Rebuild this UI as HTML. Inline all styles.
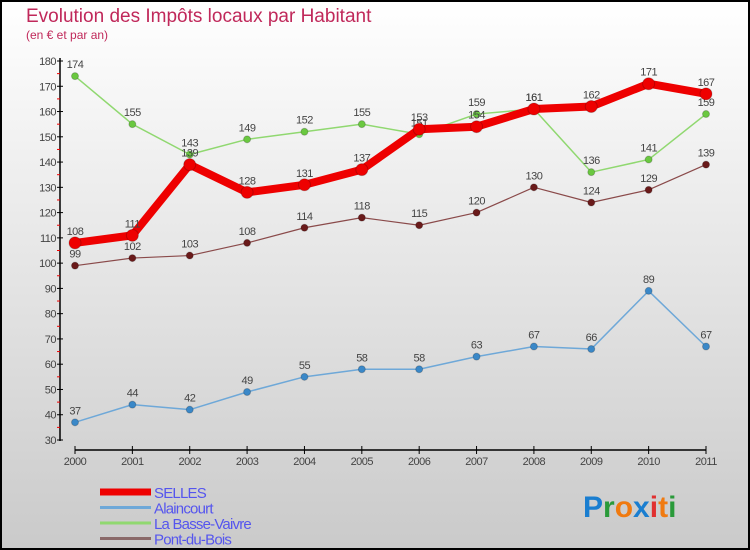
<!DOCTYPE html>
<html><head><meta charset="utf-8"><style>
body{margin:0}
svg{display:block;font-family:"Liberation Sans",sans-serif}
</style></head><body>
<svg id="c" width="750" height="550">
<defs><linearGradient id="bg" x1="0" y1="0" x2="0" y2="1"><stop offset="0" stop-color="#ffffff"/><stop offset="1" stop-color="#cacaca"/></linearGradient></defs>
<rect x="1" y="1" width="748" height="548" fill="url(#bg)" stroke="#000" stroke-width="2"/>
<text x="26" y="22" font-size="19" fill="#c0285a">Evolution des Impôts locaux par Habitant</text>
<text x="26" y="39" font-size="12" fill="#c0285a">(en € et par an)</text>
<g id="axes"></g><g id="series"></g><g id="legend"></g>
<text x="583" y="517" font-size="30" font-weight="bold"><tspan fill="#1a7ed0">P</tspan><tspan fill="#2a9a3a">r</tspan><tspan fill="#f07a10">o</tspan><tspan fill="#1a7ed0">x</tspan><tspan fill="#e03030">i</tspan><tspan fill="#f07a10">t</tspan><tspan fill="#2a9a3a">i</tspan></text>
</svg>
<script>
const years=[2000,2001,2002,2003,2004,2005,2006,2007,2008,2009,2010,2011];
const yTicks=[30,40,50,60,70,80,90,100,110,120,130,140,150,160,170,180];
const selles=[108,111,139,128,131,137,153,154,161,162,171,167];
const alaincourt=[37,44,42,49,55,58,58,63,67,66,89,67];
const basse=[174,155,143,149,152,155,151,159,161,136,141,159];
const pont=[99,102,103,108,114,118,115,120,130,124,129,139];
const names=["SELLES","Alaincourt","La Basse-Vaivre","Pont-du-Bois"];
const NS="http://www.w3.org/2000/svg";
const X=i=>75+i*(706-75)/11;
const Y=v=>440-(v-30)*(440-61)/150;
function el(t,a,p){const e=document.createElementNS(NS,t);for(const k in a)e.setAttribute(k,a[k]);p.appendChild(e);return e;}
const ax=document.getElementById('axes');
let l=el('line',{x1:60,y1:58,x2:60,y2:441,stroke:'#000','stroke-width':1.5},ax);


l=el('line',{x1:75,y1:450,x2:706,y2:450,stroke:'#000','stroke-width':1.5},ax);


yTicks.forEach((v,i)=>{
  el('line',{x1:57,y1:Y(v),x2:63,y2:Y(v),stroke:'#000'},ax);
  if(i<yTicks.length-1)el('line',{x1:57,y1:Y(v+5),x2:60,y2:Y(v+5),stroke:'#e00'},ax);
  const t=el('text',{x:56,y:Y(v)+4,'font-size':11,fill:'#444','text-anchor':'end','letter-spacing':'-0.5'},ax);
  t.textContent=v;
  
  
});
years.forEach((y,i)=>{
  el('line',{x1:X(i),y1:446,x2:X(i),y2:454,stroke:'#000'},ax);
  const t=el('text',{x:X(i),y:465,'font-size':11,fill:'#444','text-anchor':'middle','letter-spacing':'-0.5'},ax);
  t.textContent=y;
  
  
});
const sg=document.getElementById('series');
function series(data,color,w,r,dot,name){
  const g=el('g',{},sg);
  
  
  el('polyline',{points:data.map((v,i)=>X(i)+','+Y(v)).join(' '),fill:'none',stroke:color,'stroke-width':w,'stroke-linejoin':'round'},g);
  data.forEach((v,i)=>{
    const c=el('circle',{cx:X(i),cy:Y(v),r:r,fill:dot,stroke:'#0003'},g);
    
    
    const t=el('text',{x:X(i),y:Y(v)-8,'font-size':11,fill:'#444','text-anchor':'middle','letter-spacing':'-0.5'},g);
    t.textContent=v;
    
    
  });
}
series(alaincourt,'#6ea8d8',1.5,3.5,'#3a88c8','alaincourt');
series(basse,'#90d870',1.5,3.5,'#6ac840','la-basse-vaivre');
series(pont,'#8a4a4a',1.2,3.5,'#6a1a1a','pont-du-bois');
series(selles,'#ee0000',8,6,'#ee0000','selles');
const lg=document.getElementById('legend');
const lc=['#ee0000','#6ea8d8','#90d870','#8a6a6a'],lw=[7,3,3,3];
names.forEach((n,i)=>{
  const y=492+i*15.5;
  const g=el('g',{},lg);
  
  
  el('line',{x1:100,y1:y,x2:151,y2:y,stroke:lc[i],'stroke-width':lw[i]},g);
  const t=el('text',{x:154,y:y+6,'font-size':15,fill:'#5555ee','letter-spacing':'-0.8'},g);
  t.textContent=n;
});
</script>
</body></html>
